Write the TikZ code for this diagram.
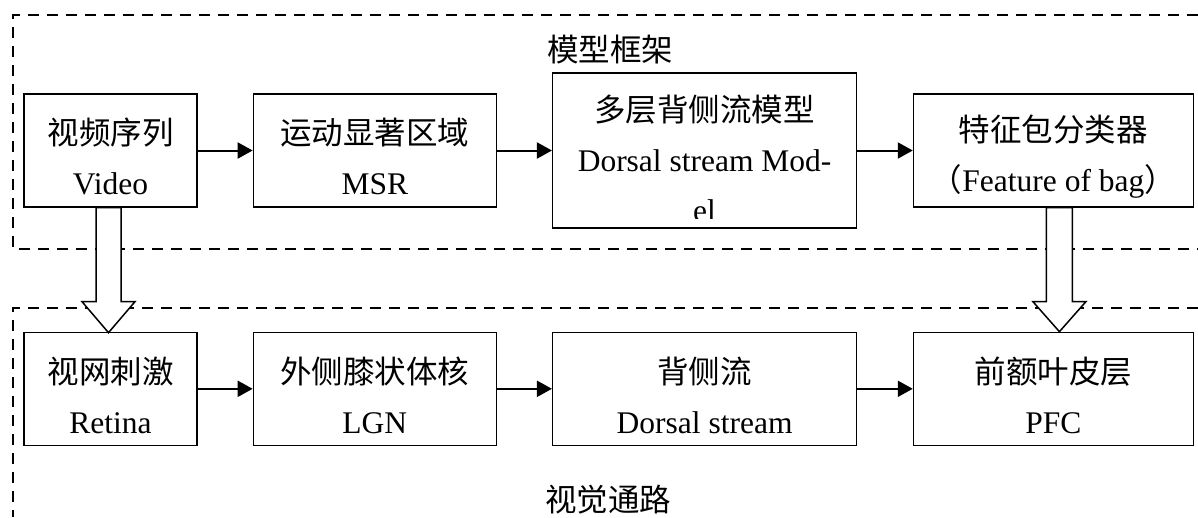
\documentclass[tikz,border=0pt]{standalone}
\usepackage{fontspec}
\setmainfont{Liberation Serif}
\newfontfamily\cjk{Noto Sans CJK SC}
\newcommand\upline{\rule{0pt}{39pt}}
\usetikzlibrary{arrows.meta,positioning,calc}

\begin{document}
\begin{tikzpicture}[
  x=1pt, y=-1pt,
  font=\fontsize{31.5}{50}\selectfont,
  blk/.style={draw,line width=1.3pt,align=center,inner sep=0pt,
    minimum height=113pt},
  txt/.style={align=center,inner sep=0pt},
  frame/.style={draw,line width=2.5pt,dash pattern=on 11pt off 8pt},
  flow/.style={draw,line width=2pt,-{Triangle[length=15pt,width=16pt]}},
  hollow/.style={draw,line width=1.5pt,fill=white}]
\useasboundingbox (0,0) rectangle (1198,517);
\draw[frame] (1198,15) -- (13,15) -- (13,249) -- (1198,249);
\draw[frame] (1198,308) -- (13,308) -- (13,517);
\node[txt] (model) at (610,50) {\cjk 模型框架};
\node[txt] (path) at (608,500) {\cjk 视觉通路};

\node[blk,minimum width=173pt] (video) at (110.5,150.5)
  {\upline{\cjk 视频序列}\\Video};
\node[blk,minimum width=243pt,right=55pt of video] (msr)
  {\upline{\cjk 运动显著区域}\\MSR};
\node[blk,minimum width=304pt,minimum height=155pt,right=55pt of msr] (dsm) {};
\begin{scope}
  \clip ([yshift=10pt]dsm.south west) rectangle (dsm.north east);
  \node[txt,anchor=north] (dsmtext) at ([yshift=-22pt]dsm.north)
    {{\cjk 多层背侧流模型}\\Dorsal stream Mod-\\el};
\end{scope}
\node[blk,minimum width=280pt,right=55.5pt of dsm] (fob)
  {\upline{\cjk 特征包分类器}\\{\cjk （}Feature of bag{\cjk ）}};

\node[blk,minimum width=173pt,below=124pt of video] (retina)
  {\upline{\cjk 视网刺激}\\Retina};
\node[blk,minimum width=243pt,right=55pt of retina] (lgn)
  {\upline{\cjk 外侧膝状体核}\\LGN};
\node[blk,minimum width=304pt,right=55pt of lgn] (ds)
  {\upline{\cjk 背侧流}\\Dorsal stream};
\node[blk,minimum width=280pt,right=55.5pt of ds] (pfc)
  {\upline{\cjk 前额叶皮层}\\PFC};

\draw[flow] (video) -- (msr);
\draw[flow] (msr) -- (dsm);
\draw[flow] (dsm) -- (fob);
\draw[flow] (retina) -- (lgn);
\draw[flow] (lgn) -- (ds);
\draw[flow] (ds) -- (pfc);

\draw[hollow] ($(video.south)+(-14.5,0)$) -- ++(0,94) -- ++(-14,0)
  -- ++(26.5,31) -- ++(26.5,-31) -- ++(-14,0) -- ++(0,-94) -- cycle;
\draw[hollow] ($(fob.south)+(-7,0)$) -- ++(0,94) -- ++(-13.5,0)
  -- ++(26.5,30) -- ++(26.5,-30) -- ++(-13.5,0) -- ++(0,-94) -- cycle;
\end{tikzpicture}
\end{document}
